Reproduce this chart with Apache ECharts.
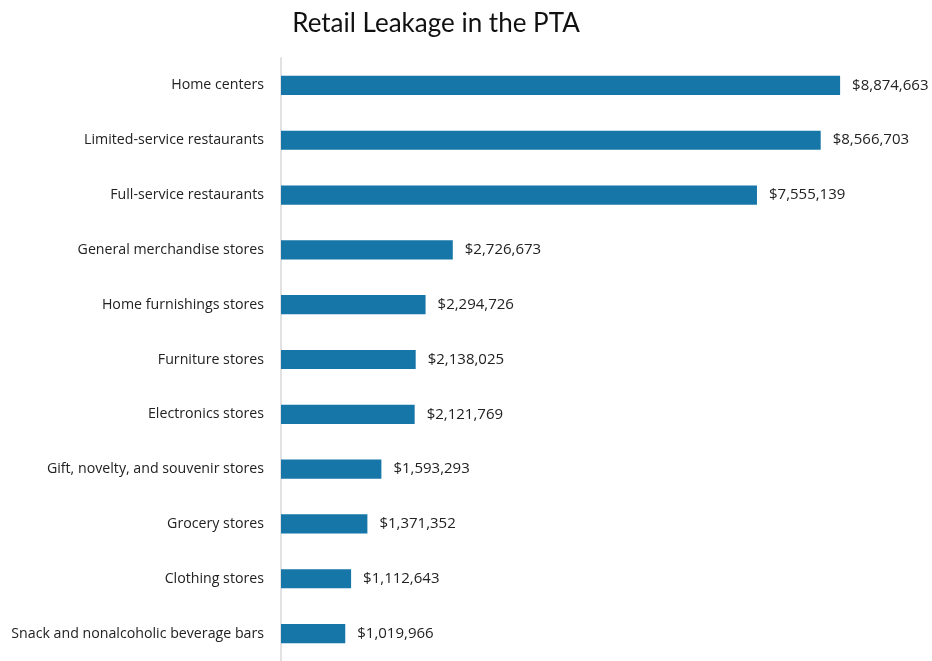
<!DOCTYPE html>
<html>
<head>
<meta charset="utf-8">
<script src="https://cdn.jsdelivr.net/npm/echarts@6/dist/echarts.min.js"></script>
<style>html,body{margin:0;padding:0;background:#fff;}#c{width:932px;height:661px;}</style>
</head>
<body>
<div id="c"></div>
<script>
var titleText = 'Retail Leakage in the PTA';
var categories = [
  'Home centers',
  'Limited-service restaurants',
  'Full-service restaurants',
  'General merchandise stores',
  'Home furnishings stores',
  'Furniture stores',
  'Electronics stores',
  'Gift, novelty, and souvenir stores',
  'Grocery stores',
  'Clothing stores',
  'Snack and nonalcoholic beverage bars'
];
var values = [8874663, 8566703, 7555139, 2726673, 2294726, 2138025, 2121769, 1593293, 1371352, 1112643, 1019966];

var chart = echarts.init(document.getElementById('c'), null, {renderer: 'canvas'});
var fontFam = 'Lato, "Noto Sans", sans-serif';
var labFam = '"Open Sans", Lato, sans-serif';
chart.setOption({
  animation: false,
  title: {
    text: titleText,
    left: 431, top: 6, textAlign: 'center',
    textStyle: {fontFamily: fontFam, fontSize: 26, fontWeight: 'normal', color: '#111'}
  },
  grid: {left: 281, top: 58, width: 567, height: 605, containLabel: false},
  xAxis: {
    type: 'value', min: 0, max: 9000000,
    show: false
  },
  yAxis: {
    type: 'category', data: categories, inverse: true,
    axisLine: {show: true, lineStyle: {color: '#e2e2e2', width: 2}},
    axisTick: {show: false},
    axisLabel: {margin: 17, fontFamily: labFam, fontSize: 14.2, color: '#222'}
  },
  series: [{
    type: 'bar', data: values, barCategoryGap: '65%',
    itemStyle: {color: '#1776a8'},
    label: {
      show: true, position: 'right', distance: 12,
      fontFamily: labFam, fontSize: 15, color: '#222',
      formatter: function (p) { return '$' + p.value.toLocaleString('en-US'); }
    }
  }]
});
</script>
</body>
</html>
